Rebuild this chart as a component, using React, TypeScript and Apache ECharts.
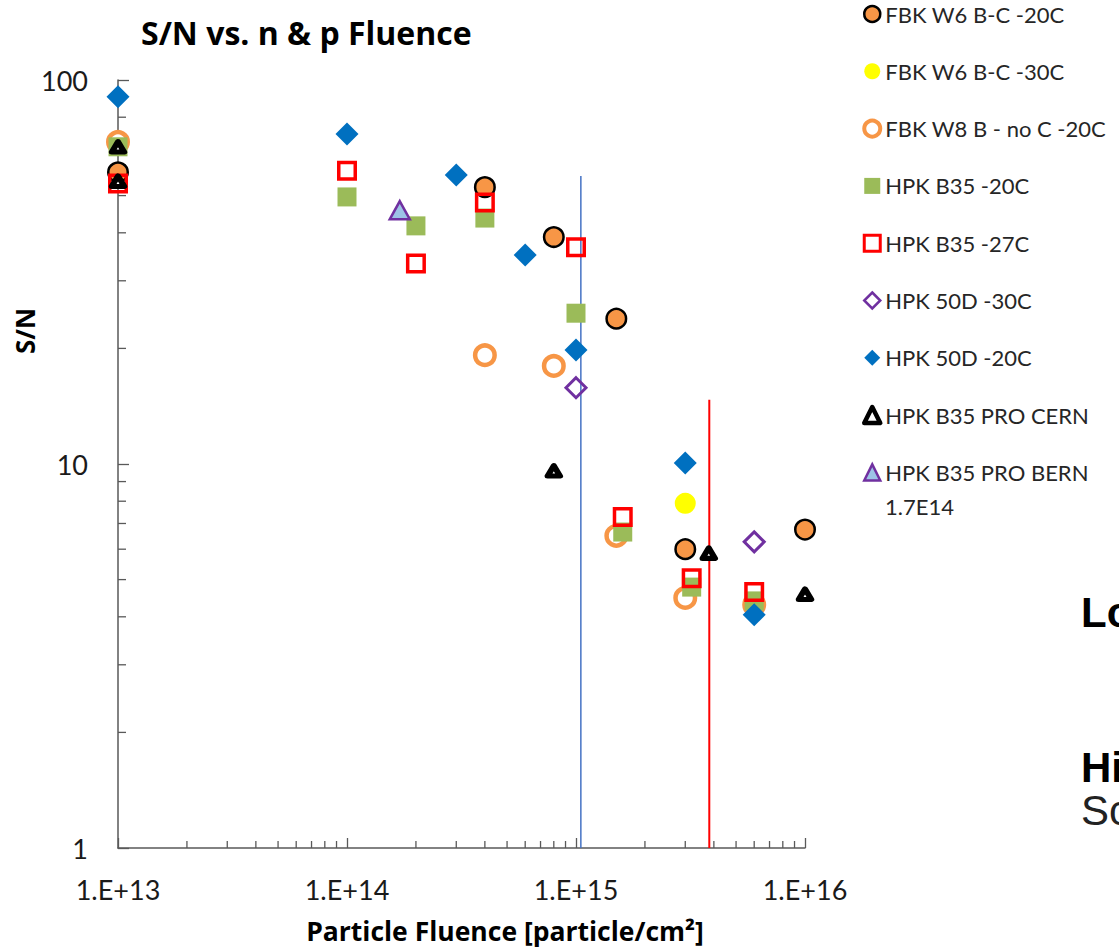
import React, { useEffect, useRef } from 'react';
import * as echarts from 'echarts';

const FONT = 'Lato, "Noto Sans", sans-serif';
const BOLD_FONT = '"Open Sans", Lato, sans-serif';

// ---- data (x = particle fluence, y = S/N) ----
const fbkW6m20: [number, number][] = [
  [1e13, 57.5], [4e14, 52.6], [8e14, 39], [1.5e15, 23.9], [3e15, 6.0], [1e16, 6.75],
];
const fbkW6m30: [number, number][] = [[3e15, 7.9]];
const fbkW8m20: [number, number][] = [
  [1e13, 69], [4e14, 19.2], [8e14, 18], [1.5e15, 6.5], [3e15, 4.48], [6e15, 4.3],
];
const hpkB35m20: [number, number][] = [
  [1e13, 67], [1e14, 49.6], [2e14, 41.7], [4e14, 43.7], [1e15, 24.7], [1.6e15, 6.65], [3.2e15, 4.78], [6e15, 4.4],
];
const hpkB35m27: [number, number][] = [
  [1e13, 53.8], [1e14, 58], [2e14, 33.3], [4e14, 48], [1e15, 36.7], [1.6e15, 7.28], [3.2e15, 5.04], [6e15, 4.64],
];
const hpk50Dm30: [number, number][] = [[1e15, 15.8], [6e15, 6.27]];
const hpk50Dm20: [number, number][] = [
  [1e13, 90.5], [1e14, 72.3], [3e14, 56.6], [6e14, 35], [1e15, 19.8], [3e15, 10.06], [6e15, 4.05],
];
const hpkProCern: [number, number][] = [[1e13, 67], [1e13, 54.5], [8e14, 9.6], [3.8e15, 5.86], [1e16, 4.58]];
const hpkProBern: [number, number][] = [[1.7e14, 45.8]];

const blueLine: [number, number][] = [[1.05e15, 1], [1.05e15, 56.2]];
const redLine: [number, number][] = [[3.82e15, 1], [3.82e15, 14.7]];

const seriesNames = [
  'FBK W6 B-C -20C',
  'FBK W6 B-C -30C',
  'FBK W8 B - no C -20C',
  'HPK B35 -20C',
  'HPK B35 -27C',
  'HPK 50D -30C',
  'HPK 50D -20C',
  'HPK B35 PRO CERN',
  'HPK B35 PRO BERN\n1.7E14',
];
const legendBorderWidths = [2.5, 0, 4, 0, 3, 2.5, 0, 4.5, 2.5];

const xTickLabels: Record<number, string> = { 13: '1.E+13', 14: '1.E+14', 15: '1.E+15', 16: '1.E+16' };
const yTickLabels: Record<number, string> = { 0: '1', 1: '10', 2: '100' };

const xMinorTicks = [
  2e13, 3e13, 4e13, 5e13, 6e13, 7e13, 8e13, 9e13,
  2e14, 3e14, 4e14, 5e14, 6e14, 7e14, 8e14, 9e14,
  2e15, 3e15, 4e15, 5e15, 6e15, 7e15, 8e15, 9e15,
];
const yMinorTicks = [2, 3, 4, 5, 6, 7, 8, 9, 20, 30, 40, 50, 60, 70, 80, 90];

const AXIS_COLOR = '#595959';

export default function App() {
  const ref = useRef<HTMLDivElement>(null);
  useEffect(() => {
    document.body.style.margin = '0';
    const chart = echarts.init(ref.current!, null, { renderer: 'svg' });

    const scatter = (name: string, data: [number, number][], symbol: string, size: any, itemStyle: any) => ({
      name,
      type: 'scatter',
      data,
      symbol,
      symbolSize: size,
      itemStyle: { opacity: 1, ...itemStyle },
      emphasis: { disabled: true },
      z: 3,
    });

    const lastName = seriesNames[seriesNames.length - 1];
    const bernLine2 = lastName.split('\n')[1];

    const option: any = {
      animation: false,
      textStyle: { fontFamily: FONT },
      title: {
        text: 'S/N vs. n & p Fluence',
        left: 141,
        top: 16,
        padding: 0,
        textStyle: { fontFamily: BOLD_FONT, fontSize: 32, fontWeight: 'bold', color: '#000' },
      },
      grid: { left: 118, right: 314, top: 80, bottom: 103, containLabel: false },
      legend: {
        orient: 'vertical',
        left: 862,
        top: 2,
        padding: 0,
        itemWidth: 16,
        itemHeight: 16,
        itemGap: 33.3,
        selectedMode: false,
        textStyle: { fontFamily: FONT, fontSize: 22, color: '#262626', lineHeight: 24 },
        formatter: (name: string) => name.split('\n')[0],
        data: seriesNames.map((n, i) => ({ name: n, itemStyle: { borderWidth: legendBorderWidths[i], opacity: 1 } })),
      },
      xAxis: {
        type: 'log',
        logBase: 10,
        min: 1e13,
        max: 1e16,
        axisLine: { lineStyle: { color: AXIS_COLOR, width: 1.5 } },
        axisTick: { show: true, inside: true, length: 10, lineStyle: { color: AXIS_COLOR, width: 1.3 } },
        axisLabel: {
          fontFamily: FONT,
          fontSize: 27,
          color: '#1a1a1a',
          margin: 28,
          formatter: (v: number) => xTickLabels[Math.round(Math.log10(v))] ?? '',
        },
        splitLine: { show: false },
      },
      yAxis: {
        type: 'log',
        logBase: 10,
        min: 1,
        max: 100,
        axisLine: { show: true, lineStyle: { color: AXIS_COLOR, width: 1.5 } },
        axisTick: { show: true, inside: true, length: 11, lineStyle: { color: AXIS_COLOR, width: 1.3 } },
        axisLabel: {
          fontFamily: FONT,
          fontSize: 27,
          color: '#1a1a1a',
          margin: 30,
          formatter: (v: number) => yTickLabels[Math.round(Math.log10(v))] ?? '',
        },
        splitLine: { show: false },
      },
      graphic: [
        {
          type: 'text',
          x: 885,
          y: 506,
          style: {
            text: bernLine2,
            font: `22px ${FONT}`,
            fill: '#262626',
            verticalAlign: 'middle',
          },
        },
        {
          type: 'text',
          x: 25,
          y: 331,
          rotation: Math.PI / 2,
          style: {
            text: 'S/N',
            font: `bold 26px ${BOLD_FONT}`,
            fill: '#000',
            align: 'center',
            verticalAlign: 'middle',
          },
        },
        {
          type: 'text',
          x: 505,
          y: 931,
          style: {
            text: 'Particle Fluence [particle/cm²]',
            font: `bold 26.5px ${BOLD_FONT}`,
            fill: '#000',
            align: 'center',
            verticalAlign: 'middle',
          },
        },
        {
          type: 'text',
          x: 1081,
          y: 612,
          style: { text: 'Lo', font: 'bold 42px "Liberation Sans", Arial, sans-serif', fill: '#000', verticalAlign: 'middle' },
        },
        {
          type: 'text',
          x: 1081,
          y: 767,
          style: { text: 'Hi', font: 'bold 42px "Liberation Sans", Arial, sans-serif', fill: '#000', verticalAlign: 'middle' },
        },
        {
          type: 'text',
          x: 1081,
          y: 810,
          style: { text: 'Sc', font: '42px "Liberation Sans", Arial, sans-serif', fill: '#222', verticalAlign: 'middle' },
        },
      ],
      series: [
        {
          type: 'custom',
          silent: true,
          clip: false,
          z: 1,
          data: xMinorTicks.map((v) => [v, 1]),
          renderItem: (_p: any, api: any) => {
            const p = api.coord([api.value(0), api.value(1)]);
            return {
              type: 'line',
              shape: { x1: p[0], y1: p[1], x2: p[0], y2: p[1] - 7 },
              style: { stroke: AXIS_COLOR, lineWidth: 1.3 },
            };
          },
        },
        {
          type: 'custom',
          silent: true,
          clip: false,
          z: 1,
          data: yMinorTicks.map((v) => [1e13, v]),
          renderItem: (_p: any, api: any) => {
            const p = api.coord([api.value(0), api.value(1)]);
            return {
              type: 'line',
              shape: { x1: p[0], y1: p[1], x2: p[0] + 8, y2: p[1] },
              style: { stroke: AXIS_COLOR, lineWidth: 1.3 },
            };
          },
        },
        {
          type: 'line',
          data: blueLine,
          showSymbol: false,
          silent: true,
          lineStyle: { color: '#4472C4', width: 1.5 },
          z: 2,
        },
        {
          type: 'line',
          data: redLine,
          showSymbol: false,
          silent: true,
          lineStyle: { color: '#FF0000', width: 2 },
          z: 2,
        },
        scatter(seriesNames[0], fbkW6m20, 'circle', 19.5, { color: '#F79646', borderColor: '#000', borderWidth: 2.5 }),
        scatter(seriesNames[1], fbkW6m30, 'circle', 21, { color: '#FFFF00' }),
        scatter(seriesNames[2], fbkW8m20, 'circle', 19.5, { color: '#FFFFFF', borderColor: '#F79646', borderWidth: 4.5 }),
        scatter(seriesNames[3], hpkB35m20, 'rect', 19, { color: '#9BBB59' }),
        scatter(seriesNames[4], hpkB35m27, 'rect', 16.5, { color: 'rgba(255,255,255,0)', borderColor: '#FF0000', borderWidth: 3.5 }),
        scatter(seriesNames[5], hpk50Dm30, 'diamond', 20, { color: 'rgba(255,255,255,0)', borderColor: '#7030A0', borderWidth: 3 }),
        scatter(seriesNames[6], hpk50Dm20, 'diamond', 23, { color: '#0070C0' }),
        scatter(seriesNames[7], hpkProCern, 'triangle', [12.5, 10.5], { color: '#FFFFFF', borderColor: '#000', borderWidth: 5.5, borderJoin: 'round' }),
        scatter(lastName, hpkProBern, 'triangle', [20, 18], { color: '#9DC3E6', borderColor: '#7030A0', borderWidth: 2.5 }),
      ],
    };

    chart.setOption(option);
    return () => chart.dispose();
  }, []);

  return <div ref={ref} style={{ width: 1119, height: 951 }} />;
}
